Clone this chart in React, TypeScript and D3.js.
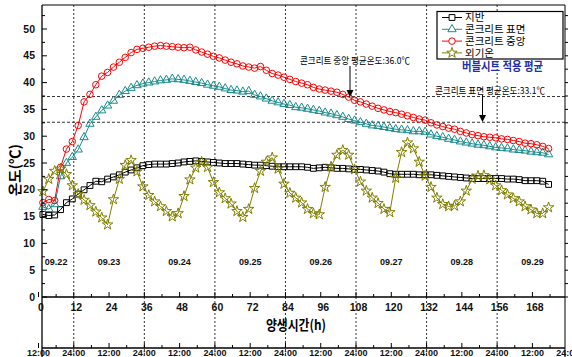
import * as d3 from "d3";

// sampling times (h) for all series
const hours = d3.range(1.5, 175, 2);

const ground = [
  15.4, 15.2, 15.3, 16.3, 17.6, 18.3, 19.2, 20.0, 20.8, 21.6,
  21.5, 22.0, 22.4, 22.8, 23.3, 23.7, 24.1, 24.5, 24.7, 24.8,
  24.8, 24.8, 24.9, 25.0, 25.2, 25.3, 25.4, 25.3, 25.2, 25.1,
  25.0, 24.9, 24.9, 24.9, 24.8, 24.7, 24.6, 24.6, 24.5, 24.4,
  24.3, 24.3, 24.3, 24.3, 24.3, 24.2, 24.0, 24.1, 24.2, 24.1,
  24.0, 24.0, 23.9, 23.8, 23.8, 23.7, 23.6, 23.5, 23.3, 23.0,
  22.9, 22.9, 22.9, 22.9, 22.8, 22.8, 22.8, 22.7, 22.6, 22.5,
  22.4, 22.3, 22.2, 22.1, 22.1, 22.1, 22.1, 22.1, 22.1, 22.0,
  22.0, 21.9, 21.7, 21.7, 21.7, 21.6, 21.0,
];
const surface = [
  16.8, 16.4, 17.3, 22.5, 25.0, 26.1, 27.5, 29.8, 32.3, 33.6,
  34.8, 35.7, 36.6, 37.7, 38.4, 39.0, 39.5, 39.8, 40.0, 40.2,
  40.4, 40.5, 40.7, 40.6, 40.5, 40.3, 40.1, 39.9, 39.6, 39.4,
  39.2, 38.9, 38.6, 38.5, 38.3, 38.4, 37.7, 37.4, 37.0, 36.6,
  36.3, 36.0, 35.8, 35.4, 35.3, 35.1, 34.9, 34.7, 34.4, 34.2,
  33.9, 33.6, 33.2, 32.9, 32.6, 32.3, 32.0, 31.9, 31.7, 31.5,
  31.3, 31.2, 31.1, 30.9, 30.9, 30.8, 30.3, 30.0, 29.8, 29.5,
  29.3, 29.0, 28.8, 28.6, 28.4, 28.3, 28.1, 27.9, 27.8, 27.7,
  27.5, 27.4, 27.3, 27.1, 27.0, 26.9, 26.6,
];
const center = [
  17.6, 18.2, 18.0, 24.2, 27.6, 29.0, 32.0, 36.4, 37.8, 39.6,
  41.2, 41.9, 42.9, 43.8, 44.7, 45.6, 46.2, 46.4, 46.6, 46.8,
  46.9, 46.8, 46.7, 46.6, 46.5, 46.6, 46.1, 45.7, 45.3, 44.9,
  44.6, 44.2, 43.8, 43.5, 43.1, 42.9, 42.7, 43.0, 42.3, 41.7,
  41.4, 41.0, 40.6, 40.2, 39.9, 39.6, 39.1, 38.8, 38.6, 38.4,
  38.2, 37.8, 37.3, 36.7, 36.4, 36.0, 35.6, 35.2, 34.9, 34.6,
  34.4, 34.1, 33.8, 33.5, 33.2, 33.0, 32.5, 32.1, 31.8, 31.5,
  31.3, 30.9, 30.6, 30.3, 30.1, 29.9, 29.8, 29.7, 29.5, 29.4,
  29.2, 29.0, 28.7, 28.6, 28.4, 28.1, 27.7,
];
const outdoor = [
  19.7, 22.0, 23.5, 23.9, 22.9, 20.8, 19.2, 18.1, 17.1, 15.9,
  14.8, 13.5, 18.2, 22.0, 24.6, 25.5, 23.4, 20.6, 19.0, 17.8,
  16.9, 16.0, 15.0, 15.6, 18.8, 21.9, 24.1, 25.2, 24.2, 21.4,
  19.5, 18.4, 17.4, 16.0, 14.9, 16.4, 20.3, 23.5, 25.2, 26.0,
  23.9, 21.1, 19.4, 18.5, 17.6, 16.4, 15.6, 15.4, 20.5, 24.3,
  26.5, 27.4, 26.5, 23.8, 21.5, 19.8, 18.5, 17.5, 16.4, 15.8,
  22.2, 27.0, 28.8, 27.7, 25.2, 22.6, 20.5, 18.5, 17.3, 16.9,
  17.0, 17.8, 19.8, 22.0, 22.6, 22.7, 21.9, 20.8, 19.9, 19.1,
  18.4, 17.8, 16.9, 16.3, 15.6, 15.6, 16.7,
];

const seriesNames = ["지반", "콘크리트 표면", "콘크리트 중앙", "외기온"];
const seriesColors = ["#000000", "#1a8c8c", "#ff0000", "#808000"];
const seriesValues = [ground, surface, center, outdoor];
const seriesSymbols = [d3.symbolSquare, d3.symbolTriangle, d3.symbolCircle, d3.symbolStar];
const symbolSizes = [34, 30, 34, 34];

const xTicks = d3.range(0, 169, 12);
const yTicks = d3.range(0, 51, 5);
const dayLabels = ["09.22", "09.23", "09.24", "09.25", "09.26", "09.27", "09.28", "09.29"];
const dayHours = [6, 24, 48, 72, 96, 120, 144, 168];
const dayBounds = [12, 36, 60, 84, 108, 132, 156];
const clockHours = d3.range(0, 181, 12);
const avgLevels = [37.4, 32.6];

const W = 572, H = 357;
const left = 42, right = 565, top = 5, axisY = 297, clockY = 348;
const bold = "'Liberation Sans', Arial, sans-serif";
const kr = "'Noto Sans CJK KR', sans-serif";

export default function App() {
  const x = d3.scaleLinear().domain([0, 180]).range([38.5, 38.5 + 180 * 2.94]);
  const y = d3.scaleLinear().domain([0, 50]).range([axisY, 29]);

  const line = d3
    .line<number>()
    .x((_, i) => x(hours[i]))
    .y((d) => y(d));

  return (
    <svg
      width={W}
      height={H}
      style={{ position: "absolute", left: 0, top: 0, background: "#fff" }}
    >
      {/* vertical day boundaries */}
      {dayBounds.map((h) => (
        <line key={h} x1={x(h)} x2={x(h)} y1={top} y2={H} stroke="#333" strokeDasharray="2,2" />
      ))}
      {/* average lines */}
      {avgLevels.map((v) => (
        <line key={v} x1={left} x2={right} y1={y(v)} y2={y(v)} stroke="#333" strokeDasharray="3,2" />
      ))}

      {/* series */}
      {seriesValues.map((vals, si) => {
        const sym = d3.symbol().type(seriesSymbols[si]).size(symbolSizes[si])();
        return (
          <g key={si}>
            <path d={line(vals) ?? ""} fill="none" stroke={seriesColors[si]} strokeWidth={1} />
            {vals.map((v, i) => (
              <path
                key={i}
                d={sym ?? ""}
                transform={`translate(${x(hours[i])},${y(v)})`}
                fill="none"
                stroke={seriesColors[si]}
                strokeWidth={1}
              />
            ))}
          </g>
        );
      })}

      {/* frame */}
      <line x1={left} x2={right} y1={top} y2={top} stroke="#000" />
      <line x1={left} x2={left} y1={top} y2={H} stroke="#000" strokeWidth={1.3} />
      <line x1={right} x2={right} y1={top} y2={H} stroke="#000" />
      <line x1={left} x2={right} y1={axisY} y2={axisY} stroke="#000" strokeWidth={1.3} />
      <line x1={left} x2={right} y1={clockY} y2={clockY} stroke="#000" strokeWidth={1.3} />

      {/* y axis */}
      {d3.range(0, 54, 2.5).map((v) => (
        <g key={v}>
          <line x1={left} x2={left + (v % 5 === 0 ? 5 : 3)} y1={y(v)} y2={y(v)} stroke="#000" />
          <line x1={right} x2={right + 3} y1={y(v)} y2={y(v)} stroke="#000" />
        </g>
      ))}
      {yTicks.map((v) => (
        <text key={v} x={35} y={y(v)} dy="0.35em" textAnchor="end" fontFamily={bold} fontWeight="bold" fontSize={10.5} fill="#111">
          {v}
        </text>
      ))}

      {/* x axis */}
      {d3.range(0, 180, 6).map((h) => (
        <g key={h}>
          <line x1={x(h)} x2={x(h)} y1={axisY} y2={axisY - (h % 12 === 0 ? 5 : 3)} stroke="#000" />
          <line x1={x(h)} x2={x(h)} y1={clockY} y2={clockY - (h % 12 === 0 ? 5 : 3)} stroke="#000" />
        </g>
      ))}
      {xTicks.map((h) => (
        <text key={h} x={x(h) + 2.5} y={311} textAnchor="middle" fontFamily={bold} fontWeight="bold" fontSize={10.5} fill="#111">
          {h}
        </text>
      ))}
      {clockHours.map((h, i) => (
        <text key={h} x={x(h)} y={356} textAnchor="middle" fontFamily={bold} fontWeight="bold" fontSize={9} fill="#111">
          {i % 2 === 0 ? "12:00" : "24:00"}
        </text>
      ))}

      {/* day labels */}
      {dayLabels.map((d, i) => (
        <text key={d} x={x(dayHours[i])} y={262} dy="0.35em" textAnchor="middle" fontFamily={bold} fontWeight="bold" fontSize={9} fill="#111">
          {d}
        </text>
      ))}

      {/* titles */}
      <text x={296} y={325} dy="0.35em" textAnchor="middle" fontFamily={kr} fontWeight="bold" fontSize={14} textLength={60} lengthAdjust="spacingAndGlyphs">
        양생시간(h)
      </text>
      <text transform="translate(15,170) rotate(-90)" dy="0.35em" textAnchor="middle" fontFamily={kr} fontWeight="bold" fontSize={14} textLength={52} lengthAdjust="spacingAndGlyphs">
        온도(℃)
      </text>

      {/* annotations */}
      <text x={300} y={61} dy="0.35em" fontFamily={kr} fontSize={9.5} textLength={110} lengthAdjust="spacingAndGlyphs">
        콘크리트 중앙 평균온도:36.0℃
      </text>
      <line x1={350} x2={350} y1={66} y2={93} stroke="#000" />
      <path d="M346.5,90 L353.5,90 L350,97 Z" fill="#000" />
      <text x={435} y={90.5} dy="0.35em" fontFamily={kr} fontSize={9.5} textLength={110} lengthAdjust="spacingAndGlyphs">
        콘크리트 표면 평균온도:33.1℃
      </text>
      <line x1={482.5} x2={482.5} y1={95} y2={118} stroke="#000" />
      <path d="M479,115 L486,115 L482.5,122 Z" fill="#000" />
      <text x={462} y={66.5} dy="0.35em" fontFamily={kr} fontWeight="bold" fontSize={12} fill="#1f2fa6" textLength={81} lengthAdjust="spacingAndGlyphs">
        버블시트 적용 평균
      </text>

      {/* legend */}
      <rect x={437} y={11.5} width={126} height={47.5} fill="#fff" stroke="#000" strokeWidth={1.2} />
      {seriesNames.map((n, i) => {
        const ly = 17.5 + i * 11.8;
        const sym = d3.symbol().type(seriesSymbols[i]).size(symbolSizes[i])();
        return (
          <g key={n}>
            <line x1={442} x2={462} y1={ly} y2={ly} stroke={seriesColors[i]} />
            <path d={sym ?? ""} transform={`translate(452,${ly})`} fill="#fff" stroke={seriesColors[i]} />
            <text x={465} y={ly} dy="0.35em" fontFamily={kr} fontSize={10.5}>
              {n}
            </text>
          </g>
        );
      })}
    </svg>
  );
}
